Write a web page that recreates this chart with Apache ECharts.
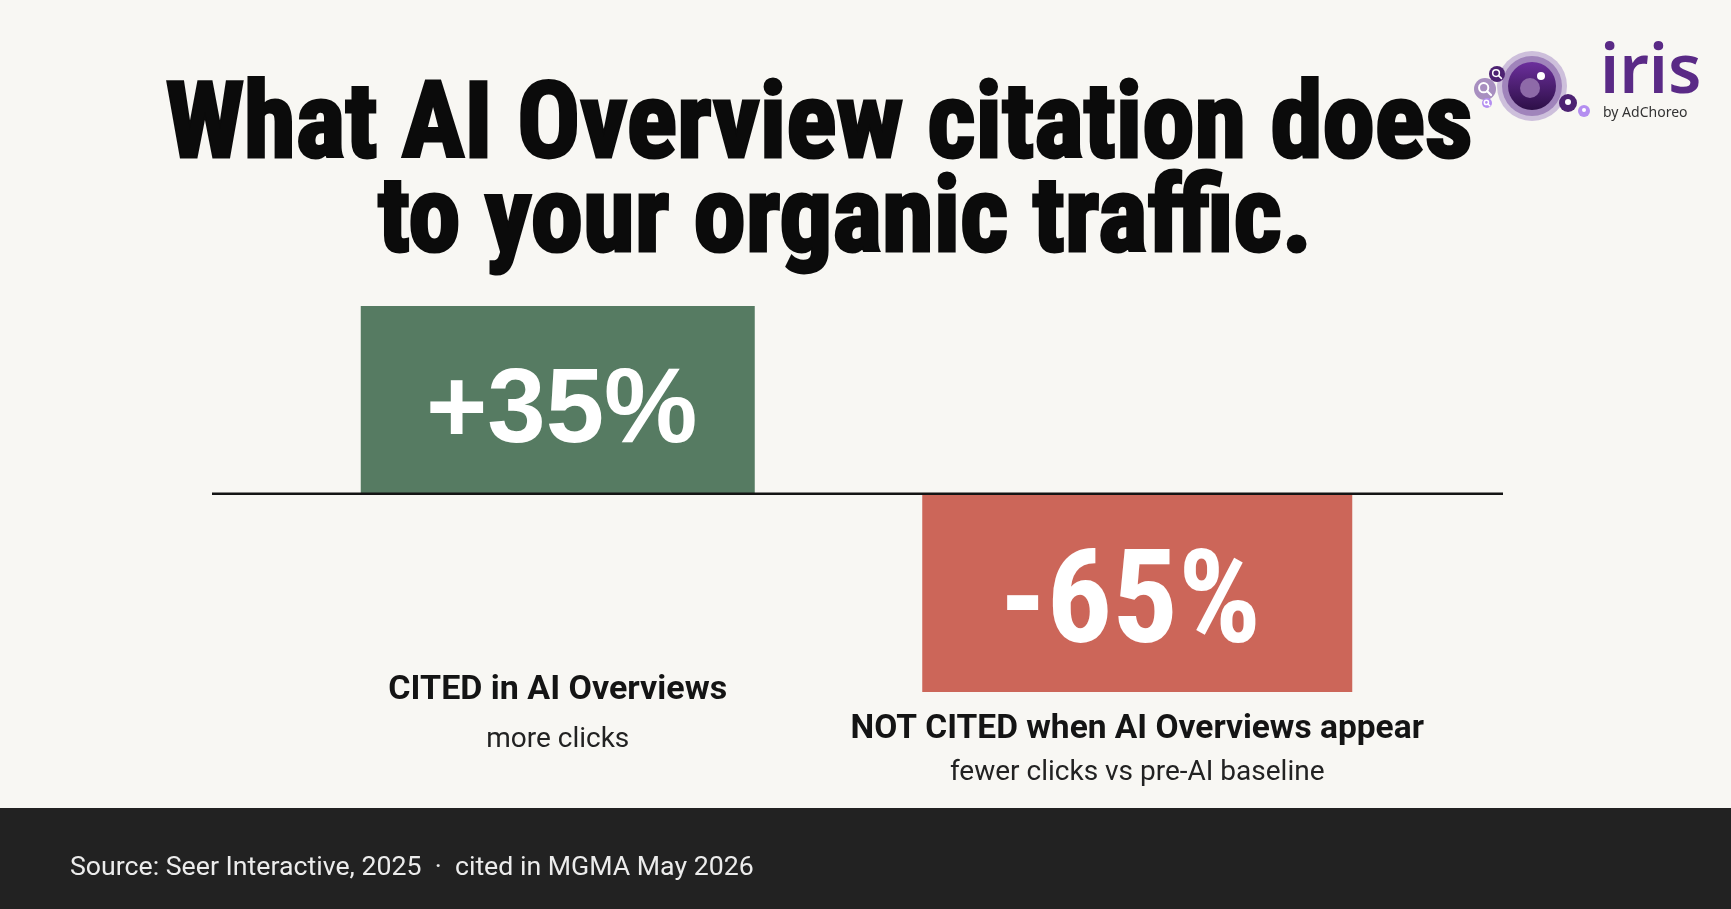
<!DOCTYPE html>
<html>
<head>
<meta charset="utf-8">
<script src="https://cdn.jsdelivr.net/npm/echarts@6/dist/echarts.min.js"></script>
<style>
html,body{margin:0;padding:0;background:#f8f7f3;}
#c{width:1731px;height:909px;}
</style>
</head>
<body>
<div id="c"></div>
<script>
// ---- data ----
const titleLines = ['What AI Overview citation does', 'to your organic traffic.'];
const categories = ['CITED in AI Overviews', 'NOT CITED when AI Overviews appear'];
const subLabels = ['more clicks', 'fewer clicks vs pre-AI baseline'];
const values = [35, -65];
const sourceText = 'Source: Seer Interactive, 2025  \u00b7  cited in MGMA May 2026';
const brandName = 'iris';
const brandSub = 'by AdChoreo';

const GREEN = '#567b62';
const RED = '#cc6659';
const PURPLE = '#5a2a86';
const CONDENSED = '"Roboto Condensed", "Liberation Sans Narrow", "DejaVu Sans Condensed", sans-serif';

const chart = echarts.init(document.getElementById('c'), null, {renderer: 'canvas'});

function fmtValue(v) { return (v > 0 ? '+' : '') + v + '%'; }

const option = {
  backgroundColor: '#f8f7f3',
  animation: false,
  grid: {left: 268, right: 304, top: 306, bottom: 217},
  xAxis: [
    {
      type: 'category',
      data: categories,
      axisLine: {show: false},
      axisTick: {show: false},
      splitLine: {show: false},
      axisLabel: {
        interval: 0,
        margin: -25,
        formatter: (v, i) => i === 0
          ? '{t|' + v + '}\n{s|' + subLabels[i] + '}'
          : '{g| }\n{t2|' + v + '}\n{s2|' + subLabels[i] + '}',
        rich: {
          g: {lineHeight: 40, fontSize: 10},
          t: {fontFamily: 'Roboto, sans-serif', fontWeight: 'bold', fontSize: 34, lineHeight: 46, color: '#141414'},
          t2: {fontFamily: 'Roboto, sans-serif', fontWeight: 'bold', fontSize: 33.5, lineHeight: 46, color: '#141414'},
          s: {fontFamily: 'Roboto, sans-serif', fontSize: 28, lineHeight: 54, color: '#222222'},
          s2: {fontFamily: 'Roboto, sans-serif', fontSize: 28, lineHeight: 40, color: '#222222'}
        }
      }
    },
    {
      type: 'category',
      data: categories,
      show: false,
      position: 'bottom'
    }
  ],
  yAxis: [
    {type: 'value', min: -37, max: 35, show: false, splitLine: {show: false}},
    {type: 'value', min: -65, max: 62, show: false, splitLine: {show: false}}
  ],
  series: [
    {
      type: 'bar',
      xAxisIndex: 0,
      yAxisIndex: 0,
      barWidth: 394,
      data: values.map((v, i) => (i === 0 ? v : '-')),
      itemStyle: {color: GREEN},
      label: {
        show: true, position: 'inside', offset: [4, 13],
        formatter: p => fmtValue(p.value),
        color: '#ffffff', fontFamily: 'Liberation Sans, Arial, sans-serif',
        fontWeight: 'bold', fontSize: 105
      }
    },
    {
      type: 'bar',
      xAxisIndex: 1,
      yAxisIndex: 1,
      barWidth: 430,
      data: values.map((v, i) => (i === 1 ? v : '-')),
      itemStyle: {color: RED},
      label: {
        show: true, position: 'inside', offset: [-7, 16],
        formatter: p => fmtValue(p.value),
        color: '#ffffff', fontFamily: CONDENSED,
        fontWeight: 'bold', fontSize: 130
      }
    }
  ]
};
chart.setOption(option);

// baseline at zero, via the library's scale
const y0 = chart.convertToPixel({yAxisIndex: 0}, 0);

function magnifier(cx, cy, r, fill, id) {
  return [
    {type: 'circle', id: id + 'c', shape: {cx: cx, cy: cy, r: r}, style: {fill: fill}, z: 10},
    {type: 'circle', id: id + 'r', shape: {cx: cx - r * 0.12, cy: cy - r * 0.12, r: r * 0.42}, style: {fill: 'none', stroke: '#ffffff', lineWidth: Math.max(1.5, r * 0.18)}, z: 11},
    {type: 'line', id: id + 'l', shape: {x1: cx + r * 0.2, y1: cy + r * 0.2, x2: cx + r * 0.55, y2: cy + r * 0.55}, style: {stroke: '#ffffff', lineWidth: Math.max(1.5, r * 0.2), lineCap: 'round'}, z: 11}
  ];
}

const titleX = [819, 845];
const titleY = [84, 178];
const titleTexts = titleLines.map((t, i) => ({
  type: 'text', id: 'title' + i, x: titleX[i], y: titleY[i],
  style: {
    text: t, fill: '#0b0b0b', fontSize: 105, fontWeight: 'bold', fontFamily: CONDENSED,
    lineHeight: 94, align: 'center', verticalAlign: 'top',
    stroke: '#0b0b0b', lineWidth: 3
  }, z: 20
}));

const graphics = [
  ...titleTexts,
  {type: 'line', id: 'base', shape: {x1: 212, y1: y0, x2: 1503, y2: y0}, style: {stroke: '#141414', lineWidth: 2.5}, z: 5},
  {type: 'rect', id: 'foot', shape: {x: 0, y: 808, width: 1731, height: 101}, style: {fill: '#222222'}, z: 1},
  {type: 'text', id: 'src', x: 70, y: 868, style: {text: sourceText, fill: '#ececec', fontSize: 26.7, fontFamily: 'Roboto, sans-serif', verticalAlign: 'middle', align: 'left'}, z: 2},
  // logo
  {type: 'circle', id: 'lz0', shape: {cx: 1532, cy: 86, r: 35}, style: {fill: '#cdbfdb'}, z: 10},
  {type: 'circle', id: 'lz1', shape: {cx: 1532, cy: 86, r: 30}, style: {fill: '#a084bb'}, z: 10},
  {type: 'circle', id: 'lz2', shape: {cx: 1532, cy: 86, r: 24}, style: {fill: new echarts.graphic.LinearGradient(0, 0, 0, 1, [{offset: 0, color: '#6c2f9c'}, {offset: 1, color: '#2d0f47'}])}, z: 10},
  {type: 'circle', id: 'lz3', shape: {cx: 1530, cy: 88, r: 10}, style: {fill: '#8e6aa8'}, z: 11},
  {type: 'circle', id: 'lz4', shape: {cx: 1541, cy: 76, r: 4}, style: {fill: '#ffffff'}, z: 12},
  ...magnifier(1485, 89, 11, '#a88fc0', 'm1'),
  ...magnifier(1497, 74, 8, '#4d2272', 'm2'),
  ...magnifier(1487, 103, 5, '#b48ef0', 'm3'),
  {type: 'circle', id: 'p1', shape: {cx: 1568, cy: 103, r: 9}, style: {fill: '#4d2272'}, z: 10},
  {type: 'circle', id: 'p1d', shape: {cx: 1568, cy: 102, r: 3}, style: {fill: '#ffffff'}, z: 11},
  {type: 'circle', id: 'p2', shape: {cx: 1584, cy: 111, r: 6}, style: {fill: '#b48ef0'}, z: 10},
  {type: 'circle', id: 'p2d', shape: {cx: 1584, cy: 110, r: 2}, style: {fill: '#ffffff'}, z: 11},
  {type: 'text', id: 'bn', x: 1600, y: 40, style: {text: brandName, fill: PURPLE, fontSize: 68, fontFamily: '"Noto Sans", sans-serif', fontWeight: 600, verticalAlign: 'top', align: 'left'}, z: 10},
  {type: 'text', id: 'bs', x: 1603, y: 113, style: {text: brandSub, fill: '#333333', fontSize: 14, fontFamily: '"Noto Sans", sans-serif', verticalAlign: 'middle', align: 'left'}, z: 10}
];
chart.setOption({graphic: graphics});
</script>
</body>
</html>
